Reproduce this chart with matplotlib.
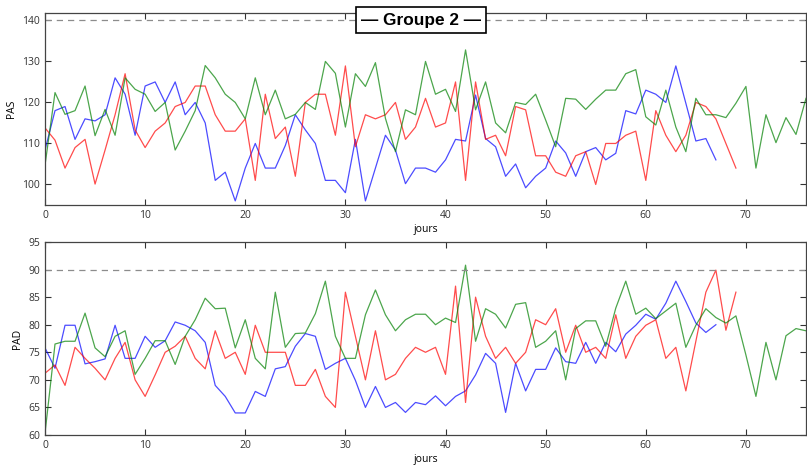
import matplotlib
matplotlib.use('Agg')
import matplotlib.pyplot as plt
import numpy as np

plt.rcParams.update({
    'font.family': ['Open Sans', 'DejaVu Sans'],
    'font.size': 7.5,
    'axes.linewidth': 0.9,
    'axes.edgecolor': '#444444',
    'xtick.direction': 'in',
    'ytick.direction': 'in',
    'xtick.top': True,
    'ytick.right': True,
    'xtick.major.size': 4,
    'ytick.major.size': 4,
    'xtick.color': '#333333',
    'ytick.color': '#333333',
})

# ── Pression artérielle systolique (PAS), une valeur par jour ────────────────
pas_bleu = [108.4, 118, 119, 111, 116, 115.5, 117, 126, 122, 112,
            124, 125, 120, 125, 117, 120, 115, 101, 103, 96,
            104, 110, 104, 104, 109.5, 117, 113.3, 110, 101, 101,
            98, 111, 96, 104, 112, 108.4, 100.2, 104, 104, 103,
            106, 111, 110.6, 121.8, 111.2, 109.2, 102, 105, 99.2, 102,
            104, 110.6, 107.7, 102, 108, 109, 106, 107.6, 118, 117.2,
            123, 122, 120, 128.9, 119.8, 110.6, 111.2, 106]
pas_rouge = [113.8, 110.8, 104, 109, 111, 100.1, 108.4, 117, 127, 113.3,
             109, 113, 115, 119, 120, 124, 124, 117, 113, 113,
             116, 101, 122, 111.2, 114, 102, 120, 122, 122, 112,
             128.9, 109.2, 117, 116, 117, 120, 111, 114, 121, 114,
             115, 125, 101, 125, 111, 112, 107, 119, 118.2, 107,
             107, 103, 102, 107, 108, 100, 110, 110, 112, 113,
             101, 118, 112, 108, 112, 120, 119, 116, 110, 104]
pas_vert = [104.7, 122.4, 117.1, 118, 124, 111.9, 118.3, 112, 126, 123.2,
            122, 117.8, 120, 108.4, 113, 118, 129, 126, 122, 120,
            116, 126, 117, 123, 116, 117.1, 120, 118.3, 130, 127.1,
            114, 127, 123.9, 129.7, 116.1, 108, 118.2, 117, 130, 122,
            123.2, 117.8, 132.8, 118.2, 125, 115, 112.6, 120, 119.5, 122,
            115.7, 109.2, 121, 120.8, 118.3, 120.8, 123, 123, 127, 128,
            116.5, 114.5, 123, 114, 108, 121, 117, 117, 116.3, 119.8,
            123.9, 104, 117, 110.2, 116.3, 112.2, 121]

# ── Pression artérielle diastolique (PAD) ────────────────────────────────────
pad_bleu = [75.8, 72.1, 79.9, 79.9, 72.9, 73.3, 73.8, 79.9, 73.9, 73.9,
            77.9, 75.9, 77.1, 80.5, 79.9, 78.9, 76.8, 69, 67, 64,
            64, 67.9, 67, 72, 72.4, 76.1, 78.4, 77.9, 71.9, 73,
            73.9, 69.9, 65, 68.8, 65, 65.9, 64.1, 65.9, 65.5, 67.1,
            65.3, 67, 68, 70.9, 74.8, 73, 64.1, 73, 68, 71.9,
            71.9, 75.8, 73.3, 73, 76.8, 73, 76.8, 75.1, 78.3, 79.9,
            81.9, 81, 83.9, 87.9, 84.2, 80.3, 78.6, 80]
pad_rouge = [71.2, 72.7, 69, 75.9, 73.9, 72.1, 70, 73.9, 76.8, 70,
             67, 70.9, 75, 76.1, 77.9, 73.9, 72, 78.9, 73.9, 75,
             71, 79.9, 75, 75, 75, 69, 69, 71.9, 67, 65,
             85.9, 77.9, 70, 78.9, 70, 71, 73.9, 75.9, 75, 75.9,
             71, 87, 65.9, 85, 77.9, 73.9, 75.9, 73, 75, 80.9,
             80, 82.9, 75, 79.9, 75, 75.9, 73.9, 81.8, 73.9, 77.9,
             79.9, 80.9, 73.9, 75.9, 68, 77, 85.9, 89.9, 79, 85.9]
pad_vert = [60.3, 76.5, 77, 77, 82.1, 75.8, 74.2, 77.9, 78.9, 71,
            73.9, 77.1, 77.1, 72.8, 77.9, 80.9, 84.8, 82.9, 83, 75.8,
            80.9, 73.9, 72, 85.9, 75.9, 78.4, 78.5, 82, 87.9, 77.9,
            73.9, 73.9, 81.8, 86.3, 81.8, 78.9, 80.9, 81.9, 81.9, 80,
            81.2, 80.4, 90.8, 77, 82.9, 81.9, 79.4, 83.7, 84, 75.9,
            77, 78.9, 70, 79.3, 80.7, 80.7, 76.1, 83, 87.9, 81.9,
            83, 81.1, 82.5, 83.9, 75.9, 79.9, 82.9, 81.3, 80.3, 81.6,
            74.5, 67, 76.8, 70, 78, 79.3, 78.9]

SEUIL_PAS = 140
SEUIL_PAD = 90
XMAX = 76

fig = plt.figure(figsize=(8.07, 4.65), dpi=100)
ax1 = fig.add_axes([45 / 807, 1 - 205 / 465, 761 / 807, 192 / 465])
ax2 = fig.add_axes([45 / 807, 1 - 435 / 465, 761 / 807, 193 / 465])


def tracer(ax, series, seuil, ylim, yticks, ylabel):
    for vals, col in zip(series, ['b', 'r', 'g']):
        ax.plot(np.arange(len(vals)), vals, color=col, alpha=0.7, lw=0.9)
    ax.axhline(seuil, color='0.55', ls='--', lw=0.9, dashes=(5, 4))
    ax.set_xlim(0, XMAX)
    ax.set_ylim(*ylim)
    ax.set_xticks(np.arange(0, 71, 10))
    ax.set_yticks(yticks)
    ax.set_xlabel('jours', labelpad=2)
    ax.set_ylabel(ylabel)


tracer(ax1, [pas_bleu, pas_rouge, pas_vert], SEUIL_PAS, (95, 141.8),
       np.arange(100, 141, 10), 'PAS')
tracer(ax2, [pad_bleu, pad_rouge, pad_vert], SEUIL_PAD, (60, 95),
       np.arange(60, 96, 5), 'PAD')

fig.text(421 / 807, 1 - 20 / 465, '— Groupe 2 —', ha='center', va='center',
         fontsize=12.4, fontweight='bold', family=['Liberation Sans', 'DejaVu Sans'],
         bbox=dict(boxstyle='square,pad=0.3', facecolor='white',
                   edgecolor='black', linewidth=1.2))

fig.savefig('out.png', dpi=100)
